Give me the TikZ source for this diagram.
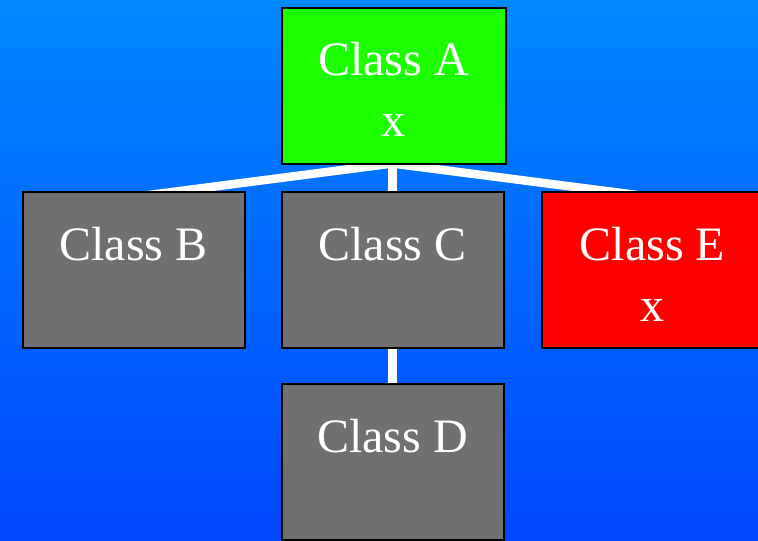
\documentclass[tikz,border=0pt]{standalone}
\usepackage{fontspec}
\setmainfont{Liberation Serif}
\definecolor{bgtop}{RGB}{0,136,255}
\definecolor{bgbot}{RGB}{0,70,255}
\definecolor{boxgreen}{RGB}{28,255,0}
\definecolor{boxgray}{RGB}{112,112,112}
\definecolor{boxred}{RGB}{255,0,0}
\pgfdeclarelayer{grad}
\pgfdeclarelayer{edges}
\pgfsetlayers{grad,edges,main}
\tikzset{
  classbox/.style={draw=black, line width=2pt, minimum width=222pt, minimum height=156pt, inner sep=0pt, outer sep=0pt},
  boxtext/.style={anchor=base, text=white, inner sep=0pt, font=\fontsize{48}{58}\selectfont},
  link/.style={draw=white, line width=8.5pt}
}
\begin{document}
\begin{tikzpicture}[x=1pt,y=-1pt]
\useasboundingbox (0,0) rectangle (758,541);
\clip (0,0) rectangle (758,541);
\begin{pgfonlayer}{grad}
\shade[top color=bgtop, bottom color=bgbot] (0,0) rectangle (758,541);
\end{pgfonlayer}
\node[classbox, fill=boxgreen, minimum width=224pt] (A) at (393.5,85.5) {};
\node[classbox, fill=boxgray] (B) at (133.5,270) {};
\node[classbox, fill=boxgray] (C) at (392.5,270) {};
\node[classbox, fill=boxred] (E) at (652.5,270) {};
\node[classbox, fill=boxgray] (D) at (392.5,462) {};
\node[boxtext] (tA) at ([yshift=-68pt]A.north) {Class A};
\node[boxtext] (xA) at ([yshift=-129pt]A.north) {x};
\node[boxtext] (tB) at ([yshift=-68pt]B.north) {Class B};
\node[boxtext] (tC) at ([yshift=-68pt]C.north) {Class C};
\node[boxtext] (tE) at ([yshift=-68pt]E.north) {Class E};
\node[boxtext] (xE) at ([yshift=-129pt]E.north) {x};
\node[boxtext] (tD) at ([yshift=-68pt]D.north) {Class D};
\begin{pgfonlayer}{edges}
\draw[link] ([xshift=-1pt]A.south) -- ([yshift=-5pt]B.north);
\draw[link] ([xshift=-1pt]A.south) -- (C.north);
\draw[link] ([xshift=-1pt]A.south) -- ([yshift=-5pt]E.north);
\draw[link] (C.south) -- (D.north);
\end{pgfonlayer}
\end{tikzpicture}
\end{document}
